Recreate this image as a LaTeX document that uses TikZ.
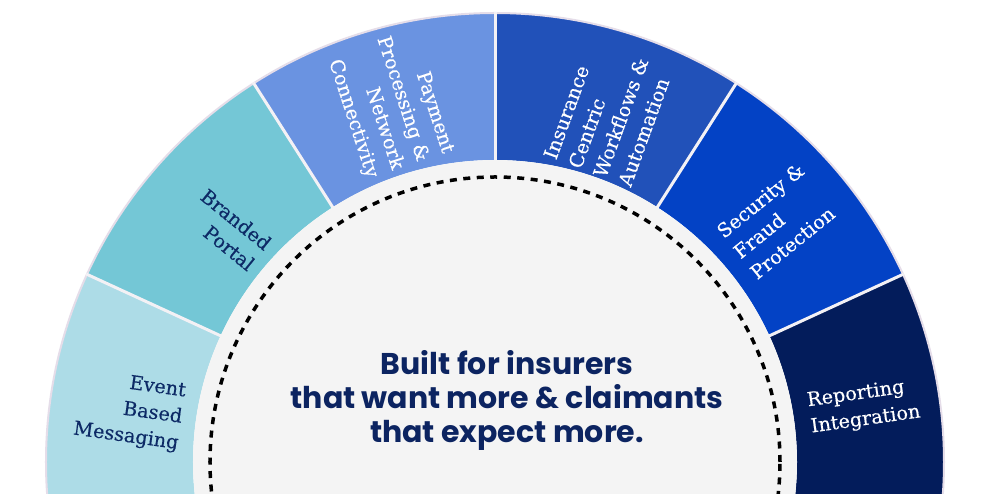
\documentclass[tikz,border=0pt]{standalone}
\usepackage{fontspec}
\setmainfont{DejaVu Serif}[FakeBold=0.35]
\newfontfamily\headfont{Poppins}
\definecolor{evtc}{HTML}{ADDCE7}
\definecolor{brandc}{HTML}{74C7D6}
\definecolor{payc}{HTML}{6A93E1}
\definecolor{insc}{HTML}{2151B9}
\definecolor{secc}{HTML}{0342C5}
\definecolor{repc}{HTML}{031C5B}
\definecolor{navytxt}{HTML}{0D2A66}
\definecolor{headtxt}{HTML}{0C2461}
\definecolor{centerfill}{HTML}{F4F4F4}
\definecolor{sepc}{HTML}{F3F1F5}
\definecolor{rimc}{HTML}{E5DDE9}
\newcommand\ringsector[3]{\fill[#3] (#1:449pt) arc[start angle=#1,end angle=#2,radius=449pt] -- (#2:302pt) arc[start angle=#2,end angle=#1,radius=302pt] -- cycle;}
\tikzset{
  lab/.style={font=\fontsize{19.3}{26.5}\selectfont, inner sep=0pt},
  darklab/.style={lab, text=navytxt},
  lightlab/.style={lab, text=white},
  sepline/.style={draw=sepc, line width=3pt},
  rimline/.style={draw=rimc, line width=2pt},
  dashring/.style={draw=black, line width=3.5pt, dash pattern=on 7pt off 6.5pt},
  headline/.style={font=\headfont\bfseries\fontsize{30}{34}\selectfont, text=headtxt, align=center}
}
\begin{document}
\begin{tikzpicture}[x=1pt,y=1pt]
\useasboundingbox (-495,-32) rectangle (487,462);
\clip (-495,-32) rectangle (487,462);
\fill[white] (-495,-32) rectangle (487,462);
\ringsector{-10}{24.7}{repc}
\ringsector{24.7}{57.5}{secc}
\ringsector{57.5}{90}{insc}
\ringsector{90}{122.5}{payc}
\ringsector{122.5}{155.3}{brandc}
\ringsector{155.3}{190}{evtc}
\draw[rimline] (0,0) circle[radius=449pt];
\foreach \a in {24.7,57.5,90,122.5,155.3} \draw[sepline] (\a:301pt) -- (\a:450pt);
\fill[centerfill] (0,0) circle[radius=302pt];
\draw[dashring] (0,0) circle[radius=285pt];
\node[darklab, align=right, rotate=-8] (event) at (172:369pt) {Event\\Based\\Messaging};
\node[darklab, align=right, rotate=-39] (branded) at (139:354pt) {Branded\\Portal};
\node[lightlab, align=right, rotate=-72] (payment) at (106.4:374pt) {Payment\\Processing \&\\Network\\Connectivity};
\node[lightlab, align=left, rotate=70] (insurance) at (72:367pt) {Insurance\\Centric\\Workflows \&\\Automation};
\node[lightlab, align=left, rotate=39] (security) at (40.5:371pt) {Security \&\\Fraud\\Protection};
\node[lightlab, align=left, rotate=8] (reporting) at (8.5:373pt) {Reporting\\Integration};
\node[headline] (title) at (12,62) {Built for insurers\\that want more \& claimants\\that expect more.};
\end{tikzpicture}
\end{document}
